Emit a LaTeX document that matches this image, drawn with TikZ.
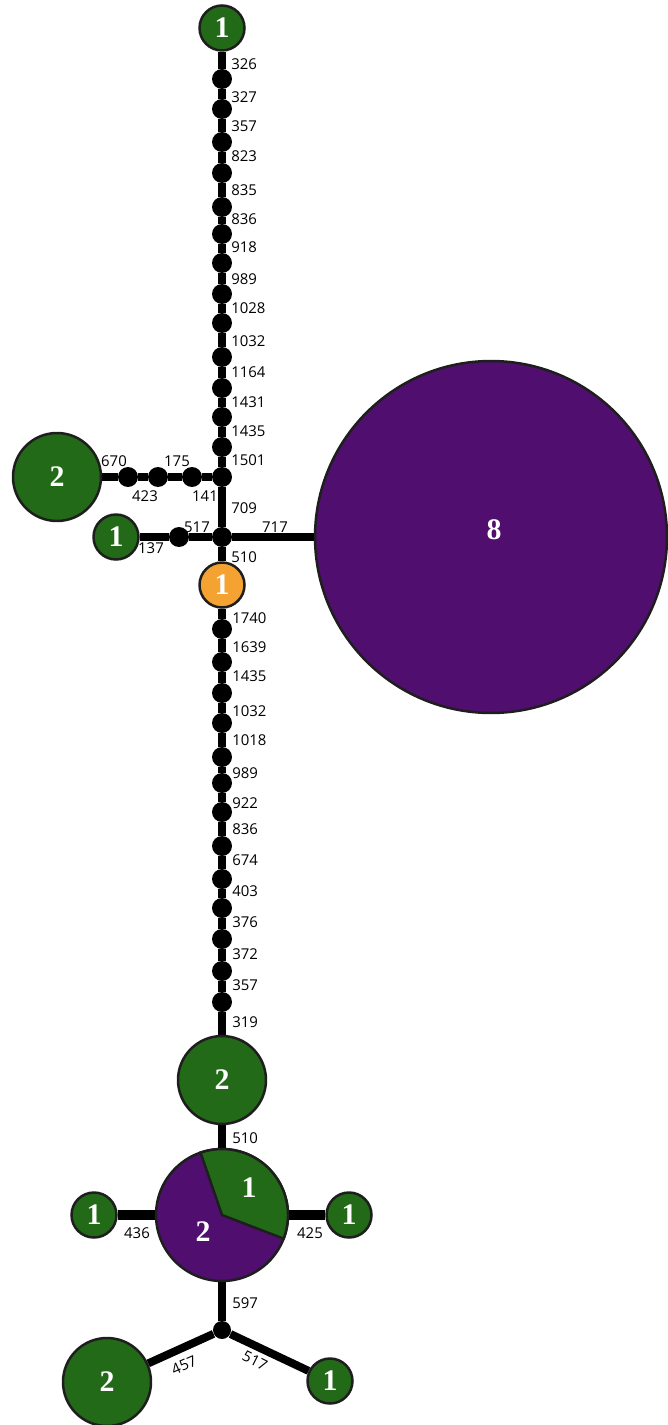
\documentclass[tikz,border=0pt]{standalone}
\usepackage{fontspec}
\setmainfont{Liberation Serif}
\newfontfamily\lblfont{Open Sans}
\usetikzlibrary{positioning, backgrounds}
\definecolor{hapgreen}{RGB}{35,106,24}
\definecolor{happurple}{RGB}{80,14,110}
\definecolor{haporange}{RGB}{244,162,50}
\definecolor{hapline}{RGB}{30,30,30}

\begin{document}
\begin{tikzpicture}[x=0.02cm, y=-0.02cm,
    hap/.style={circle, draw=hapline, line width=0.05cm, inner sep=0pt, text=white, font=\fontsize{17}{17}\selectfont\bfseries},
    hapsmall/.style={hap, minimum size=0.9cm},
    hapmid/.style={hap, minimum size=1.76cm},
    mvdot/.style={circle, fill=black, inner sep=0pt, minimum size=0.4cm},
    linkstyle/.style={line width=0.16cm},
    widelink/.style={line width=0.2cm},
    lblstyle/.style={font=\lblfont\fontsize{8.5}{9}\selectfont, inner sep=0pt},
    cntstyle/.style={text=white, inner sep=0pt, font=\fontsize{17}{17}\selectfont\bfseries},
]
    \useasboundingbox (0,0) rectangle (667,1425);

    % Top haplotype and mutation dots
    \node[hapsmall, fill=hapgreen] (top1) at (222,28) {1};
    \foreach \y [count=\i] in {79,109,142,173,207,234,263,294,323,357,388,417,447}
        \node[mvdot] (t\i) at (222,\y) {};
    \node[mvdot] (j1) at (222,477) {};
    \node[mvdot] (j2) at (222,537) {};

    % Left branches
    \node[mvdot] (l1) at (192,477) {};
    \node[mvdot] (l2) at (158,477) {};
    \node[mvdot] (l3) at (128,477) {};
    \node[hapmid, fill=hapgreen] (left2) at (57,477) {2};
    \node[mvdot] (m1) at (179,537) {};
    \node[hapsmall, fill=hapgreen] (left1) at (116,537) {1};

    % Big purple haplotype
    \node[hap, minimum size=7.04cm, fill=happurple] (big8) at (491,537) {};
    \node[cntstyle] (big8num) at (494,530) {8};

    % Orange haplotype and lower chain
    \node[hapsmall, fill=haporange] (orange1) at (222,585) {1};
    \foreach \y [count=\i] in {629,662,693,723,757,783,812,846,879,908,939,971,1002}
        \node[mvdot] (b\i) at (222,\y) {};
    \node[hapmid, fill=hapgreen] (mid2) at (222,1080) {2};

    % Pie haplotype
    \node[hap, minimum size=2.64cm, fill=happurple] (pie) at (222,1215) {};
    \filldraw[fill=hapgreen, draw=hapline, line width=0.05cm]
        (pie.center) -- ++(21:66) arc[start angle=21, end angle=-109, radius=66] -- cycle;
    \node[cntstyle] (pienum1) at (249,1188) {1};
    \node[cntstyle] (pienum2) at (203,1232) {2};
    \node[hapsmall, fill=hapgreen] (side1l) at (94,1215) {1};
    \node[hapsmall, fill=hapgreen] (side1r) at (349,1215) {1};

    % Bottom fork
    \node[mvdot, minimum size=0.36cm] (k) at (222,1330) {};
    \node[hapmid, fill=hapgreen] (low2) at (107,1382) {2};
    \node[hapsmall, fill=hapgreen] (low1) at (330,1381) {1};

    % Links
    \begin{scope}[on background layer]
        \draw[linkstyle] (top1) -- (t1);
        \foreach \i [evaluate=\i as \j using int(\i+1)] in {1,...,12} {
            \draw[linkstyle] (t\i) -- (t\j);
            \draw[linkstyle] (b\i) -- (b\j);
        }
        \draw[linkstyle] (t13) -- (j1) -- (j2) -- (orange1) -- (b1);
        \draw[linkstyle] (b13) -- (mid2) -- (pie) -- (k);
        \draw[linkstyle] (j1) -- (l1) -- (l2) -- (l3) -- (left2);
        \draw[linkstyle] (j2) -- (m1) -- (left1);
        \draw[linkstyle] (j2) -- (big8);
        \draw[widelink] (side1l) -- (pie) -- (side1r);
        \draw[linkstyle] (k) -- (low2);
        \draw[linkstyle] (k) -- (low1);
    \end{scope}

    % Mutation labels, upper chain
    \foreach \y/\t [count=\i] in {64/326, 97/327, 126/357, 156/823, 190/835, 219/836, 247/918,
            279/989, 308/1028, 341/1032, 372/1164, 402/1431, 431/1435, 460/1501, 508/709, 557/510}
        \node[lblstyle, anchor=west] (lt\i) at (231,\y) {\t};

    % Mutation labels, lower chain
    \foreach \y/\t [count=\i] in {618/1740, 647/1639, 676/1435, 711/1032, 740/1018, 773/989, 803/922,
            829/836, 860/674, 891/403, 922/376, 954/372, 985/357, 1022/319, 1138/510, 1303/597}
        \node[lblstyle, anchor=west] (lb\i) at (232,\y) {\t};

    % Mutation labels, side branches
    \node[lblstyle] (l670) at (114,461) {670};
    \node[lblstyle] (l423) at (145,496) {423};
    \node[lblstyle] (l175) at (177,461) {175};
    \node[lblstyle] (l141) at (205,496) {141};
    \node[lblstyle] (l517) at (197,527) {517};
    \node[lblstyle] (l137) at (151,548) {137};
    \node[lblstyle] (l717) at (275,527) {717};
    \node[lblstyle] (l436) at (137,1233) {436};
    \node[lblstyle] (l425) at (310,1233) {425};
    \node[lblstyle, rotate=24] (l457) at (184,1365) {457};
    \node[lblstyle, rotate=-27] (l517b) at (255,1361) {517};

\end{tikzpicture}
\end{document}
